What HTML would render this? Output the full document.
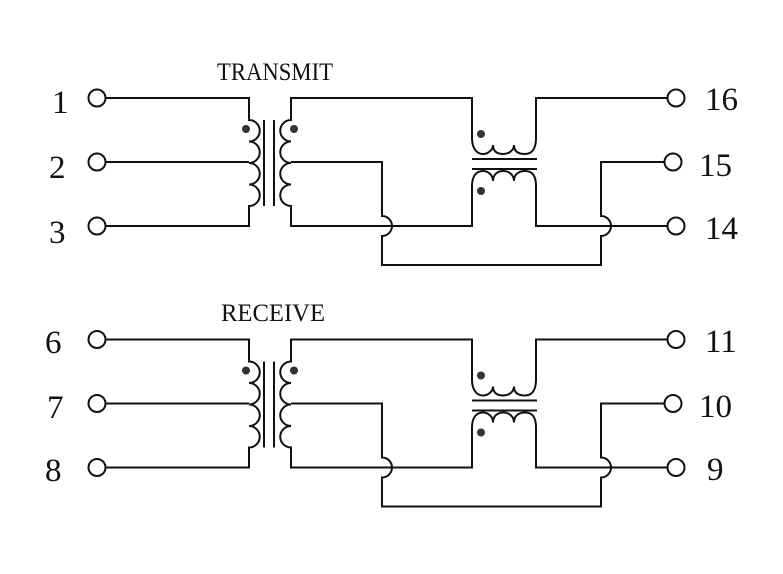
<!DOCTYPE html>
<html><head><meta charset="utf-8"><style>
html,body{margin:0;padding:0;background:#fff;}
svg{display:block;}
text{font-family:"Liberation Serif",serif;fill:#111;}
</style></head><body>
<svg width="783" height="574" viewBox="0 0 783 574" xmlns="http://www.w3.org/2000/svg">
<defs>
<g id="blk" fill="none" stroke="#111" stroke-width="2">
  <circle cx="97" cy="98" r="8.5"/>
  <circle cx="97" cy="162" r="8.5"/>
  <circle cx="97" cy="226" r="8.5"/>
  <circle cx="676" cy="98" r="8.5"/>
  <circle cx="673" cy="162" r="8.5"/>
  <circle cx="676" cy="226" r="8.5"/>
  <path d="M105.5,98 H249 V120 a10.75,10.75 0 0 1 0,21.5 a10.75,10.75 0 0 1 0,21.5 a10.75,10.75 0 0 1 0,21.5 a10.75,10.75 0 0 1 0,21.5 V226 H105.5"/>
  <path d="M105.5,162 H249"/>
  <path d="M264,120 V206 M274,120 V206"/>
  <path d="M472,186 V226 H291 V206 a10.75,10.75 0 0 1 0,-21.5 a10.75,10.75 0 0 1 0,-21.5 a10.75,10.75 0 0 1 0,-21.5 a10.75,10.75 0 0 1 0,-21.5 V98 H472 V138"/>
  <path d="M291,162 H382 V216 a10,10 0 0 1 0,20 V265 H601 V236 a10,10 0 0 0 0,-20 V162 H664.5"/>
  <path d="M472,138 C472,150 478,154 483,154 C488,154 493,150 493,145 C493,152 498,154 503.5,154 C509,154 514,150 514,145 C514,152 519,154 525,154 C531,154 536,150 536,138 V98 H667.5"/>
  <path d="M472,186 C472,174 478,171 483,171 C488,171 493,175 493,181 C493,174 498,171 503.5,171 C509,171 514,175 514,181 C514,174 519,171 525,171 C531,171 536,174 536,186 V226 H667.5"/>
  <path d="M472,159 H537 M472,169 H537"/>
  <g fill="#333" stroke="none">
    <circle cx="246" cy="129" r="4"/>
    <circle cx="294" cy="129" r="4"/>
    <circle cx="481" cy="134" r="4"/>
    <circle cx="481" cy="191" r="4"/>
  </g>
</g>
</defs>
<use href="#blk"/>
<use href="#blk" transform="translate(0,241.5)"/>
<g font-size="33">
<text x="52" y="113">1</text>
<text x="49" y="178">2</text>
<text x="49" y="243">3</text>
<text x="705" y="110">16</text>
<text x="699" y="176">15</text>
<text x="705" y="239">14</text>
<text x="45" y="353">6</text>
<text x="47" y="418">7</text>
<text x="45" y="481">8</text>
<text x="705" y="352">11</text>
<text x="699" y="417">10</text>
<text x="707" y="480">9</text>
</g>
<text x="217" y="80" font-size="25" textLength="116" lengthAdjust="spacingAndGlyphs">TRANSMIT</text>
<text x="221" y="321" font-size="25" textLength="104" lengthAdjust="spacingAndGlyphs">RECEIVE</text>
</svg>
</body></html>
